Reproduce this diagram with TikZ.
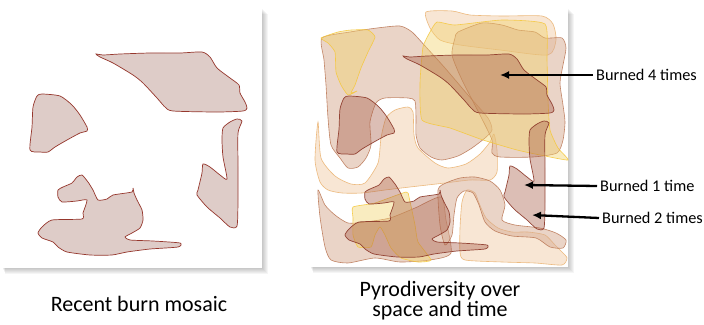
\documentclass[tikz,border=0pt]{standalone}
\usepackage{fontspec}
\setmainfont{Carlito}
\usetikzlibrary{arrows.meta,positioning}

\definecolor{burnfill}{RGB}{222,204,200}
\definecolor{burnline}{RGB}{150,55,45}
\definecolor{recentfill}{RGB}{168,94,72}
\definecolor{recentline}{RGB}{140,55,40}
\definecolor{lbfill}{RGB}{214,170,145}
\definecolor{lbline}{RGB}{185,115,80}
\definecolor{peachfill}{RGB}{240,200,160}
\definecolor{peachline}{RGB}{235,180,115}
\definecolor{yelfill}{RGB}{243,210,105}
\definecolor{yelline}{RGB}{245,200,60}

% the four recent burn patches, drawn in both panels
\newcommand{\burnpatches}[1]{%
  \draw[#1] plot[smooth cycle,tension=0.4] coordinates
    {(96,54) (103,55) (120,54) (150,53) (180,53) (202,52) (210,57) (217,68)
     (230,78) (239,85) (240,93) (245,102) (247,108) (243,111) (217,112)
     (173,111) (165,107) (157,98) (143,83) (133,75) (113,63) (100,57)};
  \draw[#1] plot[smooth cycle,tension=0.4] coordinates
    {(37,96) (42,94) (60,96) (72,105) (80,115) (87,127) (87,131) (80,133)
     (67,140) (55,147) (48,152) (40,152) (30,150) (32,127) (33,107)};
  \draw[#1] plot[smooth cycle,tension=0.4] coordinates
    {(242,121) (237,119) (230,122) (223,128) (222,140) (223,157) (227,179)
     (220,175) (210,167) (203,164) (202,173) (198,190) (197,195) (207,207)
     (220,218) (230,227) (237,226) (238,200) (238,167) (238,133)};
  \draw[#1] plot[smooth cycle,tension=0.35] coordinates
    {(58,190) (63,187) (72,183) (77,177) (82,175) (88,182) (93,190) (98,200)
     (107,199) (113,195) (132,192) (133,188) (134,193) (137,200) (142,210)
     (143,220) (140,228) (132,233) (125,237) (130,240) (153,241) (180,243)
     (178,247) (150,249) (127,252) (112,255) (90,255) (67,252) (58,247)
     (53,242) (42,238) (38,233) (42,227) (52,220) (82,219) (83,213) (87,200)
     (77,201) (62,202) (58,197)};
}

\begin{document}
\begin{tikzpicture}[x=1pt,y=-1pt,>=Latex,
  burn/.style={draw=burnline,fill=burnfill,line width=0.7pt},
  recent/.style={draw=recentline,fill=recentfill,fill opacity=0.4,draw opacity=0.9,line width=0.7pt},
  lightburn/.style={draw=lbline,fill=lbfill,fill opacity=0.5,draw opacity=0.85,line width=0.6pt},
  peachburn/.style={draw=peachline,fill=peachfill,fill opacity=0.45,draw opacity=0.9,line width=0.6pt},
  yelburn/.style={draw=yelline,fill=yelfill,fill opacity=0.42,draw opacity=0.9,line width=0.6pt},
  caption/.style={font=\fontsize{22}{18}\selectfont,align=center},
  lbl/.style={font=\fontsize{16.3}{19}\selectfont,inner sep=3pt},
  arr/.style={-{Latex[length=9pt,width=8pt]},line width=2.3pt}]
\useasboundingbox (0,0) rectangle (704,324);

% panels with soft shadow
\foreach \i in {1,...,6}{
  \fill[black,opacity=0.04] (2+\i*0.5,8+\i) rectangle (262+\i,268+\i);
  \fill[black,opacity=0.04] (310+\i*0.5,8+\i) rectangle (568+\i,267+\i);
}
\fill[white] (2,8) rectangle (262,268);
\fill[white] (310,8) rectangle (568,267);

% left panel
\burnpatches{burn}

% right panel: older fires
\draw[peachburn] plot[smooth cycle,tension=0.4] coordinates
  {(318,122) (321,158) (335,176) (351,184) (365,183) (378,163) (381,138)
   (386,118) (395,110) (408,107) (413,112) (414,135) (418,148) (435,163)
   (448,168) (466,164) (480,154) (490,142) (494,134) (497,150) (497,172)
   (490,180) (470,180) (445,183) (410,187) (385,190) (362,193) (342,193)
   (328,190) (320,182) (315,160)};
\draw[peachburn] plot[smooth cycle,tension=0.4] coordinates
  {(467,190) (475,193) (479,203) (486,218) (498,228) (512,232) (528,232)
   (545,235) (555,245) (562,252) (567,258) (562,265) (535,263) (502,262)
   (465,260) (460,252) (460,228) (462,202)};
\draw[peachburn] plot[smooth cycle,tension=0.4] coordinates
  {(426,12) (452,11) (470,15) (502,16) (542,16) (553,24) (556,40) (548,55)
   (500,50) (460,45) (440,40) (430,28)};

\draw[lightburn] plot[smooth cycle,tension=0.4] coordinates
  {(322,38) (350,32) (377,28) (400,26) (412,32) (426,47) (445,68) (468,95)
   (488,118) (492,130) (485,138) (472,148) (458,156) (442,160) (431,157)
   (420,148) (416,135) (416,118) (415,101) (408,98) (385,98) (376,103)
   (370,122) (371,145) (366,158) (358,167) (348,168) (340,158) (331,145)
   (328,118) (326,85) (324,60)};
\draw[lightburn] plot[smooth cycle,tension=0.4] coordinates
  {(455,38) (458,32) (482,23) (502,25) (518,30) (535,32) (545,38) (562,38)
   (566,48) (563,65) (560,83) (563,105) (565,122) (563,140) (557,153)
   (533,157) (500,157) (492,153) (492,140) (480,115) (462,80) (452,55)};
\draw[lightburn] plot[smooth cycle,tension=0.4] coordinates
  {(318,190) (325,205) (335,215) (348,223) (365,222) (390,218) (415,208)
   (441,197) (446,220) (451,253) (430,260) (400,262) (375,258) (348,263)
   (331,260) (325,247) (320,217)};
\draw[lightburn] plot[smooth cycle,tension=0.4] coordinates
  {(438,190) (446,183) (460,178) (475,177) (490,181) (500,190) (505,205)
   (502,220) (515,225) (540,228) (556,233) (566,240) (563,248) (550,247)
   (536,238) (512,236) (495,231) (485,222) (479,205) (473,193) (464,191)
   (457,198) (454,215) (452,235) (445,245) (440,225)};

\draw[yelburn] plot[smooth cycle,tension=0.3] coordinates
  {(437,22) (455,25) (502,20) (545,24) (547,60) (548,100) (550,130) (558,148)
   (568,160) (540,155) (517,150) (483,140) (450,128) (422,120) (420,83)
   (423,47) (430,32)};
\draw[yelburn] plot[smooth cycle,tension=0.3] coordinates
  {(321,38) (338,32) (351,30) (368,30) (375,37) (368,52) (361,68) (355,85)
   (351,93) (357,91) (348,95) (341,85) (336,72) (335,52) (328,43)};
\draw[yelburn] plot[smooth cycle,tension=0.3] coordinates
  {(353,207) (375,203) (406,192) (409,197) (415,225) (418,242) (431,260)
   (418,262) (401,258) (391,248) (385,235) (380,227) (375,235) (371,247)
   (358,247) (353,235) (353,218)};

% right panel: the recent fires on top
\begin{scope}[shift={(307,2)}]
  \burnpatches{recent}
\end{scope}

% labels
\node[caption] (recentcap) at (139,304) {Recent burn mosaic};
\node[caption] (pyrocap) at (440,300.5) {Pyrodiversity over\\space and time};

\node[lbl,anchor=west] (four) at (593,75) {Burned 4 times};
\node[lbl,anchor=west] (one) at (597,186) {Burned 1 time};
\node[lbl,anchor=west] (two) at (599,218) {Burned 2 times};
\coordinate (fourtip) at (500,75);
\coordinate (onetip) at (524,185);
\coordinate (twotip) at (532,215);
\draw[arr] (four.west) -- (fourtip);
\draw[arr] (one.west) -- (onetip);
\draw[arr] (two.west) -- (twotip);
\end{tikzpicture}
\end{document}
